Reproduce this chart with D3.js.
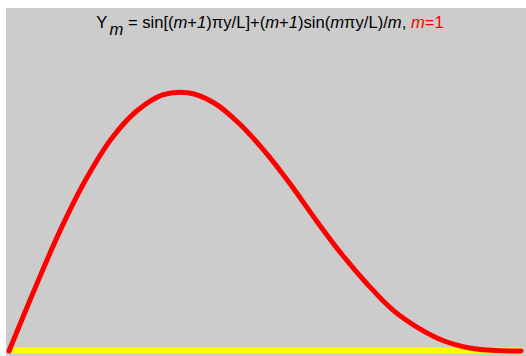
<!DOCTYPE html>
<html>
<head>
<meta charset="utf-8">
<script src="https://cdn.jsdelivr.net/npm/d3@7"></script>
<style>
  body { margin: 0; background: #fff; }
  svg { display: block; }
</style>
</head>
<body>
<div id="chart"></div>
<script>
// y/L positions and Y_m values (m = 1)
let yPos = [0, 0.05, 0.1, 0.15, 0.2, 0.25, 0.3, 0.35, 0.4, 0.45, 0.5,
            0.55, 0.6, 0.65, 0.7, 0.75, 0.8, 0.85, 0.9, 0.95, 1];
let ymVals = [0, 0.62, 1.21, 1.72, 2.13, 2.41, 2.57, 2.59, 2.49, 2.28, 2.0,
              1.67, 1.31, 0.97, 0.67, 0.41, 0.23, 0.10, 0.03, 0.004, 0];
let baseEnds = [0, 1];

let W = 526, H = 356;
let panel = {left: 6, top: 8};

var svg = d3.select("#chart").append("svg")
    .attr("width", W)
    .attr("height", H);

svg.append("rect")
    .attr("x", panel.left).attr("y", panel.top)
    .attr("width", W - panel.left).attr("height", H - panel.top)
    .attr("fill", "#cccccc");

var x = d3.scaleLinear().domain([0, 1]).range([9, 521]);
var y = d3.scaleLinear().domain([0, 2.598]).range([351, 92]);

// yellow zero line
svg.append("line")
    .attr("x1", x(baseEnds[0]) + 3).attr("x2", x(baseEnds[1]) + 1)
    .attr("y1", y(0) - 0.5).attr("y2", y(0) - 0.5)
    .attr("stroke", "#ffff00")
    .attr("stroke-width", 6);

var line = d3.line()
    .x((d, i) => x(yPos[i]))
    .y(d => y(d))
    .curve(d3.curveCatmullRom);

svg.append("path")
    .datum(ymVals)
    .attr("d", line)
    .attr("fill", "none")
    .attr("stroke", "#ff0000")
    .attr("stroke-width", 5)
    .attr("stroke-linecap", "round")
    .attr("stroke-linejoin", "round");

// title with italic m's
let parts = [
    ["Y", false], ["m", true, "sub"], [" = sin[(", false], ["m", true], ["+", false], ["1", true],
    [")\u03c0y/L]+(", false], ["m", true], ["+", false], ["1", true], [")sin(", false],
    ["m", true], ["\u03c0y/L)/", false], ["m", true], [", ", false],
    ["m", true, null, "red"], ["=1", false, null, "red"]
];

var title = svg.append("text")
    .attr("x", 270).attr("y", 28)
    .attr("text-anchor", "middle")
    .attr("font-family", "Liberation Sans, Arial, sans-serif")
    .attr("font-size", 16.6)
    .attr("fill", "#000");

parts.forEach((p, i) => {
    let t = title.append("tspan")
        .text(p[0])
        .attr("font-style", p[1] ? "italic" : "normal");
    if (p[3]) t.attr("fill", p[3]);
    if (p[2] == "sub") t.attr("dy", 7).attr("dx", 2);
    else if (i > 0 && parts[i - 1][2] == "sub") t.attr("dy", -7);
});
</script>
</body>
</html>
